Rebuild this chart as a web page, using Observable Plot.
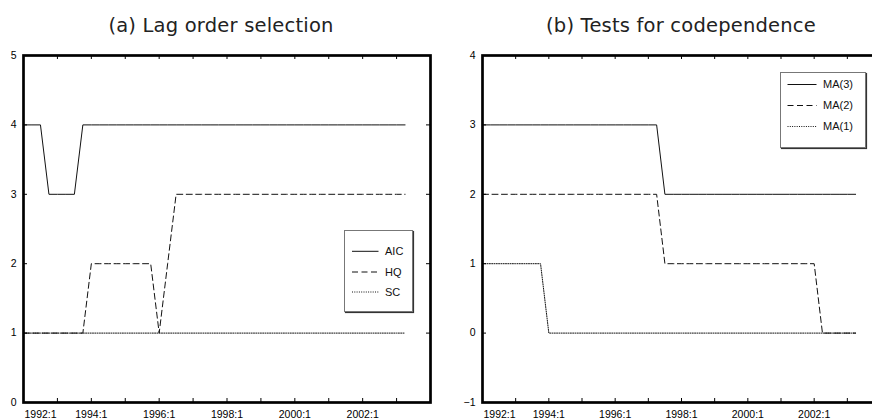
<!DOCTYPE html>
<html><head><meta charset="utf-8">
<script src="https://cdn.jsdelivr.net/npm/d3@7"></script>
<script src="https://cdn.jsdelivr.net/npm/@observablehq/plot@0.6"></script>
<style>
body{margin:0;background:#fff;}
#wrap{position:relative;width:872px;height:418px;overflow:hidden;background:#fff;}
.panel{position:absolute;top:0;height:418px;overflow:hidden;}
.panel svg{display:block;max-width:none !important;}
.legend{position:absolute;}
</style></head><body><div id="wrap">
<div class="panel" id="pa" style="left:0;width:436px"></div>
<div class="panel" id="pb" style="left:436px;width:436px"></div>
</div>
<script>
// ---- data ----
const quarters = [
 "1992:1","1992:2","1992:3","1992:4","1993:1","1993:2","1993:3","1993:4",
 "1994:1","1994:2","1994:3","1994:4","1995:1","1995:2","1995:3","1995:4",
 "1996:1","1996:2","1996:3","1996:4","1997:1","1997:2","1997:3","1997:4",
 "1998:1","1998:2","1998:3","1998:4","1999:1","1999:2","1999:3","1999:4",
 "2000:1","2000:2","2000:3","2000:4","2001:1","2001:2","2001:3","2001:4",
 "2002:1","2002:2","2002:3","2002:4","2003:1","2003:2"];
const aic = [4,4,4,3, 3,3,3,4, 4,4,4,4, 4,4,4,4, 4,4,4,4, 4,4,4,4, 4,4,4,4, 4,4,4,4, 4,4,4,4, 4,4,4,4, 4,4,4,4, 4,4];
const hq  = [1,1,1,1, 1,1,1,1, 2,2,2,2, 2,2,2,2, 1,2,3,3, 3,3,3,3, 3,3,3,3, 3,3,3,3, 3,3,3,3, 3,3,3,3, 3,3,3,3, 3,3];
const sc  = [1,1,1,1, 1,1,1,1, 1,1,1,1, 1,1,1,1, 1,1,1,1, 1,1,1,1, 1,1,1,1, 1,1,1,1, 1,1,1,1, 1,1,1,1, 1,1,1,1, 1,1];
const ma3 = [3,3,3,3, 3,3,3,3, 3,3,3,3, 3,3,3,3, 3,3,3,3, 3,3,2,2, 2,2,2,2, 2,2,2,2, 2,2,2,2, 2,2,2,2, 2,2,2,2, 2,2];
const ma2 = [2,2,2,2, 2,2,2,2, 2,2,2,2, 2,2,2,2, 2,2,2,2, 2,2,1,1, 1,1,1,1, 1,1,1,1, 1,1,1,1, 1,1,1,1, 1,0,0,0, 0,0];
const ma1 = [1,1,1,1, 1,1,1,1, 0,0,0,0, 0,0,0,0, 0,0,0,0, 0,0,0,0, 0,0,0,0, 0,0,0,0, 0,0,0,0, 0,0,0,0, 0,0,0,0, 0,0];
const tickYears  = [1993,1994,1995,1996,1997,1998,1999,2000,2001,2002,2003];
const labelYears = [1992,1994,1996,1998,2000,2002];
const xDomain = [1992, 2004];
const yTicksA = [0,1,2,3,4,5];
const yTicksB = [-1,0,1,2,3,4];
const titleA = "(a) Lag order selection";
const titleB = "(b) Tests for codependence";
const namesA = ["AIC","HQ","SC"];
const namesB = ["MA(3)","MA(2)","MA(1)"];

// ---- styles ----
const dashes = [null, "6,3.5", "1,1.3"];
const widths = [1, 1, 1];
const tickFont = "'Liberation Sans', Arial, sans-serif";

function tq(q){ const [y,k] = q.split(":").map(Number); return y + (k-1)/4; }
const fmtY = d => d < 0 ? "\u2212" + Math.abs(d) : String(d);

function drawPanel(el, {width, mL, mR, yDomain, yTicks, series, title, titleX}) {
  const H = 378, mT = 15, mB = 16;
  const plotH = H - mT - mB, plotW = width - mL - mR;
  // title
  const ts = d3.create("svg").attr("width", 436).attr("height", 40);
  ts.append("text").attr("x", titleX).attr("y", 31.5).attr("text-anchor", "middle")
    .attr("font-family", "'DejaVu Sans', sans-serif").attr("font-size", 19.5)
    .attr("letter-spacing", 0.2)
    .attr("fill", "#222").text(title);
  el.appendChild(ts.node());

  const marks = [];
  for (let j = series.length - 1; j >= 0; j--) {
    const s = series[j];
    const rows = quarters.map((q, i) => ({t: tq(q), v: s[i]}));
    const opt = {x: "t", y: "v", stroke: "#111", strokeWidth: widths[j]};
    if (dashes[j]) opt.strokeDasharray = dashes[j];
    marks.push(Plot.line(rows, opt));
  }
  marks.push(
    Plot.tickX(tickYears, {x: d => d, insetTop: plotH - 4, stroke: "#000"}),
    Plot.tickX(tickYears, {x: d => d, insetBottom: plotH - 4, stroke: "#000"}),
    Plot.tickY(yTicks, {y: d => d, insetRight: plotW - 4, stroke: "#000"}),
    Plot.tickY(yTicks, {y: d => d, insetLeft: plotW - 4, stroke: "#000"}),
    Plot.frame({stroke: "#000", strokeWidth: 2.7}),
    Plot.axisY({ticks: yTicks, tickSize: 0, tickPadding: 7, tickFormat: fmtY, label: null, fontSize: 10.5}),
    Plot.text(labelYears.slice(1), {x: d => d, text: d => d + ":1", frameAnchor: "bottom",
      lineAnchor: "bottom", dy: 15, fontSize: 10.5}),
    Plot.text(labelYears.slice(0, 1), {x: d => d, text: d => d + ":1", frameAnchor: "bottom",
      lineAnchor: "bottom", dy: 15, dx: 1, fontSize: 10.5, textAnchor: "start"})
  );
  const chart = Plot.plot({
    width, height: H,
    marginLeft: mL, marginRight: mR, marginTop: mT, marginBottom: mB,
    x: {domain: xDomain, axis: null},
    y: {domain: yDomain, axis: null},
    style: {fontFamily: tickFont, fontSize: "10px", background: "transparent", overflow: "visible", color: "#000"},
    marks
  });
  chart.style.maxWidth = "none";
  chart.style.width = width + "px";
  chart.style.height = H + "px";
  el.appendChild(chart);
}

drawPanel(document.getElementById("pa"), {
  width: 436, mL: 23, mR: 6, yDomain: [0, 5], yTicks: yTicksA,
  series: [aic, hq, sc], title: titleA, titleX: 221
});
drawPanel(document.getElementById("pb"), {
  width: 460, mL: 46, mR: 16, yDomain: [-1, 4], yTicks: yTicksB,
  series: [ma3, ma2, ma1], title: titleB, titleX: 245
});

// ---- legends ----
function legend({left, top, w, h, names, lineX0, lineX1, textX, rowY}) {
  const s = d3.create("svg").attr("class", "legend")
    .attr("width", w + 3).attr("height", h + 3)
    .style("left", left + "px").style("top", top + "px");
  s.append("rect").attr("x", 1.5).attr("y", 1.5).attr("width", w).attr("height", h)
    .attr("fill", "none").attr("stroke", "#333").attr("stroke-width", 1.2);
  s.append("rect").attr("x", 0.5).attr("y", 0.5).attr("width", w).attr("height", h)
    .attr("fill", "#fff").attr("stroke", "#777").attr("stroke-width", 1);
  names.forEach((n, i) => {
    const ln = s.append("line").attr("x1", lineX0).attr("x2", lineX1)
      .attr("y1", rowY[i]).attr("y2", rowY[i]).attr("stroke", "#111").attr("stroke-width", widths[i]);
    if (dashes[i]) ln.attr("stroke-dasharray", dashes[i]);
    s.append("text").attr("x", textX).attr("y", rowY[i]).attr("dy", "0.36em")
      .attr("font-family", tickFont).attr("font-size", 11).attr("fill", "#111").text(n);
  });
  document.getElementById("wrap").appendChild(s.node());
}
legend({left: 344, top: 230, w: 68, h: 81, names: namesA, lineX0: 8, lineX1: 34.5, textX: 41, rowY: [21.3, 42, 62]});
legend({left: 780, top: 71.5, w: 85, h: 75, names: namesB, lineX0: 7.5, lineX1: 36.5, textX: 43, rowY: [12.5, 33.5, 54.5]});
</script>
</body></html>
